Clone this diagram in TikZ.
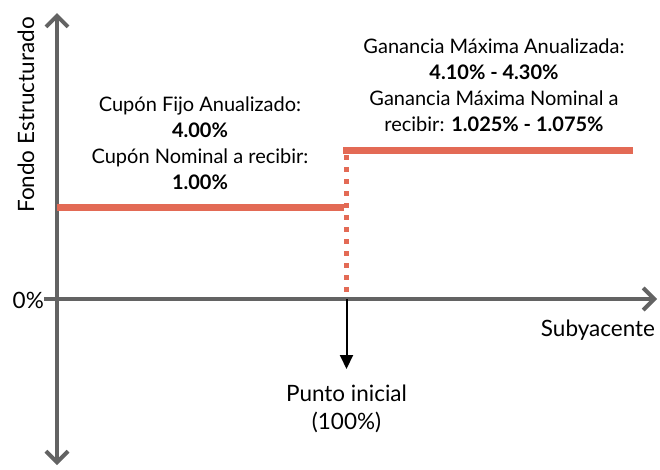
\documentclass[tikz,border=0pt]{standalone}
\usepackage{fontspec}
\setmainfont{Lato}
\usetikzlibrary{arrows.meta}
\definecolor{axisgray}{HTML}{636363}
\definecolor{payoff}{HTML}{E36A55}
\tikzset{
  axisline/.style={draw=axisgray, line width=4pt, -{Straight Barb[length=11pt,width=22pt,line width=4pt]}},
  payline/.style={draw=payoff, line width=6.5pt},
  paydots/.style={draw=payoff, line width=5pt, dash pattern=on 5pt off 7pt},
  lbl/.style={font=\fontsize{20}{26}\selectfont, align=center, text=black, inner sep=0pt},
  biglbl/.style={font=\fontsize{22.5}{28}\selectfont, align=center, text=black, inner sep=0pt},
}
\begin{document}
\begin{tikzpicture}[x=1pt,y=-1pt]
\useasboundingbox (0,0) rectangle (660,469);
% coordinates
\coordinate (ytop) at (57,13);
\coordinate (ybot) at (57,465);
\coordinate (ymid) at (57,299);
\coordinate (xleft) at (44,299);
\coordinate (xright) at (657,299);
\coordinate (lowL) at (57,207.5);
\coordinate (lowR) at (344,207.5);
\coordinate (highL) at (343,150.5);
\coordinate (highR) at (633,150.5);
\coordinate (dotTop) at (346.5,155);
\coordinate (dotBot) at (346.5,299);
\coordinate (arrTop) at (346.5,299);
% axes
\draw[axisline] (ymid) -- (ytop);
\draw[axisline] (ymid) -- (ybot);
\draw[axisline] (xleft) -- (xright);
% payoff
\draw[paydots] (dotTop) -- (dotBot);
\draw[payline] (lowL) -- (lowR);
\draw[payline] (highL) -- (highR);
% start arrow
\node[biglbl] (start) at (346.5,409) {Punto inicial\\(100\%)};
\coordinate (arrEnd) at (346.5,369);
\draw[line width=2pt, -{Triangle[length=14pt,width=13pt]}] (arrTop) -- (arrEnd);
% labels
\node[biglbl, anchor=east] (zero) at (44,300) {0\%};
\node[biglbl] (sub) at (598,330) {Subyacente};
\node[biglbl, rotate=90] (fondo) at (26,115) {Fondo Estructurado};
\node[lbl] (left) at (200,143) {Cupón Fijo Anualizado:\\\textbf{4.00\%}\\Cupón Nominal a recibir:\\\textbf{1.00\%}};
\node[lbl] (right) at (494,85) {Ganancia Máxima Anualizada:\\\textbf{4.10\% - 4.30\%}\\Ganancia Máxima Nominal a\\recibir: \textbf{1.025\% - 1.075\%}};
\end{tikzpicture}
\end{document}
